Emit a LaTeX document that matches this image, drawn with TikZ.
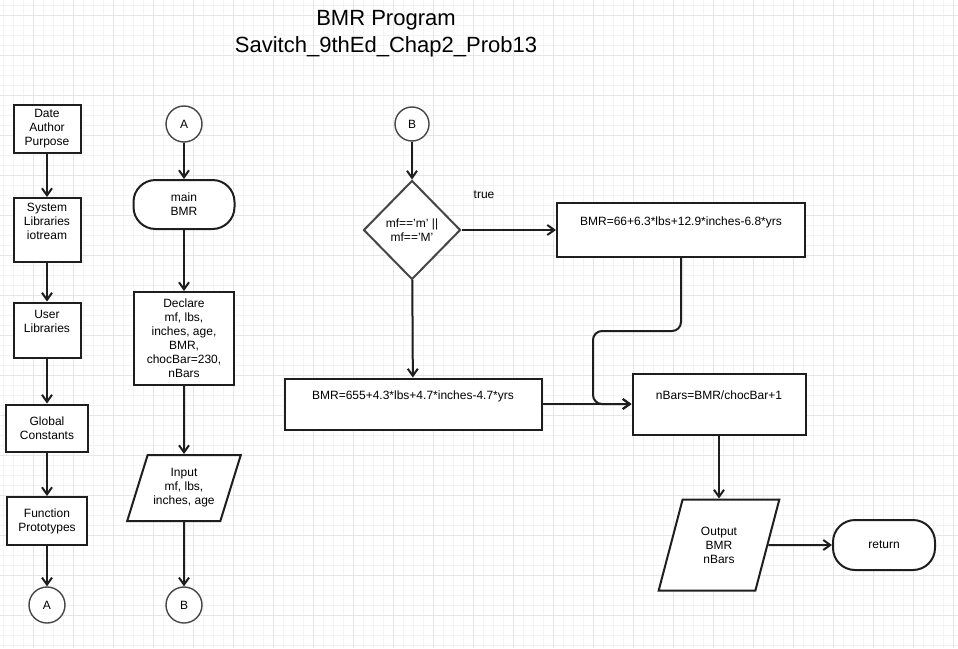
\documentclass[tikz,border=0pt]{standalone}
\usepackage{fontspec}
\setmainfont{Liberation Sans}
\usetikzlibrary{shapes.geometric, arrows.meta}
\definecolor{gridminor}{RGB}{242,242,250}
\definecolor{gridmajor}{RGB}{228,228,242}
\definecolor{edge}{RGB}{30,30,30}
\definecolor{rim}{RGB}{70,70,70}

\begin{document}
\begin{tikzpicture}[x=1pt, y=-1pt,
  txt/.style={font=\fontsize{12}{14}\selectfont},
  box/.style={txt, draw=edge, line width=2pt, fill=white, align=center, inner sep=0pt},
  term/.style={box, rounded corners=22pt},
  conn/.style={txt, circle, draw=rim, line width=1.4pt, fill=white, minimum size=36pt, inner sep=0pt},
  dec/.style={txt, diamond, draw=rim, line width=2pt, fill=white, align=center, inner sep=0pt, minimum width=97pt, minimum height=99pt},
  io/.style={box, trapezium, trapezium stretches=true},
  arr/.style={-{Straight Barb[length=7pt, width=10pt]}, line width=2pt, draw=edge}]

\useasboundingbox (0,0) rectangle (958,648);

% grid
\fill[white] (0,0) rectangle (958,648);
\foreach \x in {3,13,...,953} \draw[gridminor, line width=1pt] (\x,0) -- (\x,648);
\foreach \y in {5,15,...,645} \draw[gridminor, line width=1pt] (0,\y) -- (958,\y);
\foreach \x in {33,73,...,953} \draw[gridmajor, line width=1pt] (\x,0) -- (\x,648);
\foreach \y in {15,55,...,615} \draw[gridmajor, line width=1pt] (0,\y) -- (958,\y);

% title
\node[align=center, font=\fontsize{22}{27}\selectfont] (title) at (386,33.5) {BMR Program\\Savitch\_9thEd\_Chap2\_Prob13};

% header column
\node[box, minimum width=67pt, minimum height=48pt] (info) at (47,129) {Date\\Author\\Purpose};
\node[box, minimum width=67pt, minimum height=64pt] (syslib) at (47,230) {System\\Libraries\\iotream\\\strut};
\node[box, minimum width=67pt, minimum height=55pt] (usrlib) at (47,330) {User\\Libraries\\\strut};
\node[box, minimum width=82pt, minimum height=47pt] (consts) at (47,428) {Global\\Constants};
\node[box, minimum width=80pt, minimum height=48pt] (protos) at (47,521) {Function\\Prototypes};
\node[conn] (outA) at (47,605) {A};

\draw[arr] (info) -- (syslib);
\draw[arr] (syslib) -- (usrlib);
\draw[arr] (usrlib) -- (consts);
\draw[arr] (consts) -- (protos);
\draw[arr] (protos) -- (outA);

% main column
\node[conn] (inA) at (184,124) {A};
\node[term, minimum width=101pt, minimum height=49pt] (mainbmr) at (184,204.5) {main\\BMR};
\node[box, minimum width=100pt, minimum height=93pt] (declare) at (184,338.5) {Declare\\mf, lbs,\\inches, age,\\BMR,\\chocBar=230,\\nBars};
\node[io, trapezium left angle=66, trapezium right angle=114, minimum width=114pt, minimum height=66pt] (input) at (184,488) {Input\\mf, lbs,\\inches, age};
\node[conn] (outB) at (184,605) {B};

\draw[arr] (inA) -- (mainbmr);
\draw[arr] (mainbmr) -- (declare);
\draw[arr] (declare) -- (input);
\draw[arr] (input) -- (outB);

% calculation
\node[conn, minimum size=34pt] (inB) at (412,124) {B};
\node[dec] (test) at (412,230) {mf=='m' ||\\mf=='M'};
\node[box, minimum width=248pt, minimum height=54pt] (male) at (681,230) {BMR=66+6.3*lbs+12.9*inches-6.8*yrs\\\strut};
\node[box, minimum width=257pt, minimum height=51pt] (female) at (413,404) {BMR=655+4.3*lbs+4.7*inches-4.7*yrs\\\strut};
\node[box, minimum width=173pt, minimum height=61pt] (bars) at (719,404) {nBars=BMR/chocBar+1\\\strut};
\node[io, trapezium left angle=72, trapezium right angle=108, minimum width=121pt, minimum height=91pt] (output) at (719,545) {Output\\BMR\\nBars};
\node[term, minimum width=102pt, minimum height=50pt] (ret) at (884,545) {return};
\node[txt] (true) at (484,195) {true};
\coordinate (join) at (593,404);

\draw[arr] (inB) -- (test);
\draw[arr] (test) -- (male);
\draw[arr] (test) -- (female);
\draw[arr, rounded corners=9pt] (male.south) -- ++(0,73) -| (join) -- (bars.west);
\draw[arr] (female) -- (bars);
\draw[arr] (bars) -- (output);
\draw[arr] (output) -- (ret);

\end{tikzpicture}
\end{document}
